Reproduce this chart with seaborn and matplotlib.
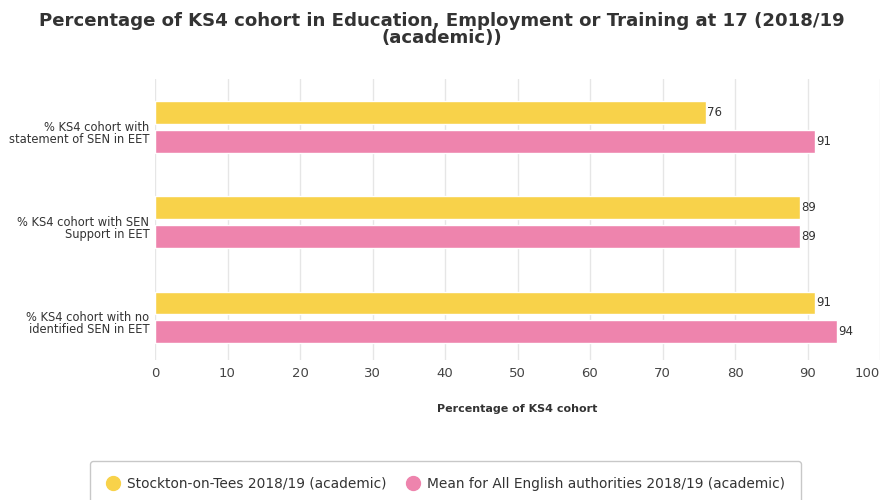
import matplotlib
matplotlib.use("Agg")
import matplotlib.pyplot as plt
import matplotlib.transforms as mtransforms
from matplotlib.lines import Line2D
import seaborn as sns
import pandas as pd

categories = [
    "% KS4 cohort with\nstatement of SEN in EET",
    "% KS4 cohort with SEN\nSupport in EET",
    "% KS4 cohort with no\nidentified SEN in EET",
]
series_names = [
    "Stockton-on-Tees 2018/19 (academic)",
    "Mean for All English authorities 2018/19 (academic)",
]
stockton = [76, 89, 91]
england_mean = [91, 89, 94]
x_ticks = [0, 10, 20, 30, 40, 50, 60, 70, 80, 90, 100]
colors = ["#F8D24A", "#EE84AD"]

df = pd.DataFrame({
    "category": categories * 2,
    "series": [series_names[0]] * 3 + [series_names[1]] * 3,
    "value": stockton + england_mean,
})

sns.set_theme(style="white")
plt.rcParams["font.family"] = ["DejaVu Sans"]
text_color = "#333333"

fig = plt.figure(figsize=(8.83, 5.0), dpi=100)
ax = fig.add_axes([155 / 883, 1 - 360 / 500, (880 - 155) / 883, (360 - 79.5) / 500])

sns.barplot(
    data=df, x="value", y="category", hue="series",
    palette=colors, orient="h", width=0.6, gap=0.2,
    saturation=1, legend=False, ax=ax,
)

for cont in ax.containers:
    ax.bar_label(cont, fmt="%d", padding=1, fontsize=8.5, color=text_color)

ax.set_xlim(0, 100)
ax.set_ylim(2.45, -0.5)
ax.set_xticks(x_ticks)
ax.set_xticklabels([str(t) for t in x_ticks], fontsize=9.5, color="#444444")
ax.get_xticklabels()[-1].set_horizontalalignment("right")
ax.tick_params(axis="x", length=0, pad=5)
ax.tick_params(axis="y", length=0, pad=4)
ax.set_yticks(range(len(categories)))
ax.set_yticklabels(categories, fontsize=8.3, color=text_color, linespacing=0.95)
# category labels sit a little below the middle of their bar pair
shift = mtransforms.ScaledTranslation(0, -5 / 100, fig.dpi_scale_trans)
for lbl in ax.get_yticklabels():
    lbl.set_transform(lbl.get_transform() + shift)
ax.set_yticks([0.5, 1.5], minor=True)
ax.tick_params(axis="y", which="minor", length=3, color="#e0e0e0", width=0.8)
ax.grid(axis="x", color="#e6e6e6", linewidth=1)
ax.set_axisbelow(True)
for s in ax.spines.values():
    s.set_visible(False)

ax.set_ylabel("")
ax.set_xlabel("Percentage of KS4 cohort", fontsize=8, fontweight="bold",
              color=text_color, labelpad=17)

fig.text(0.5, 0.941,
         "Percentage of KS4 cohort in Education, Employment or Training at 17 (2018/19\n(academic))",
         ha="center", va="center", fontsize=13.1, fontweight="bold",
         color=text_color, linespacing=0.9)

handles = [
    Line2D([0], [0], marker="o", linestyle="", markersize=10,
           markerfacecolor=c, markeredgecolor=c)
    for c in colors
]
leg = fig.legend(
    handles, series_names, loc="upper center",
    bbox_to_anchor=(445.5 / 883, 1 - 454 / 500), ncol=2,
    frameon=True, fontsize=9.9, handletextpad=0.55, columnspacing=1.4,
    handlelength=1.0, borderpad=1.15, fancybox=True, edgecolor="#bbbbbb",
)
for t in leg.get_texts():
    t.set_color(text_color)
leg.get_frame().set_linewidth(1)

fig.savefig("out.png", dpi=100)
